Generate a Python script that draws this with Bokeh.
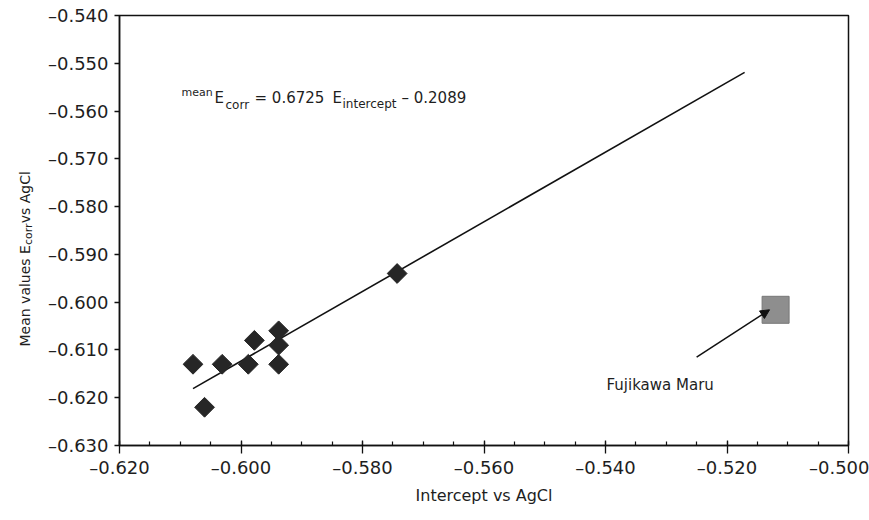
import numpy as np
from bokeh.plotting import figure
from bokeh.layouts import row
from bokeh.models import (Range1d, FixedTicker, CustomJSTickFormatter, Label,
                          Arrow, NormalHead)
from bokeh.embed import file_html
from bokeh.resources import INLINE

# ---------------- data ----------------
intercept = [-0.6079, -0.6031, -0.5988, -0.5938, -0.5938, -0.5938, -0.5978, -0.6060, -0.5743]
ecorr_mean = [-0.613, -0.613, -0.613, -0.613, -0.609, -0.606, -0.608, -0.622, -0.594]

fit_x = [-0.6079, -0.5171]
fit_y = [-0.6181, -0.5519]

outlier_x = [-0.5120]
outlier_y = [-0.6016]
outlier_name = "Fujikawa Maru"
arrow_from = (-0.5250, -0.6115)
arrow_to = (-0.5130, -0.6016)

x_ticks = [-0.620, -0.600, -0.580, -0.560, -0.540, -0.520, -0.500]
x_minor = [-0.620, -0.615, -0.610, -0.605, -0.600, -0.595, -0.590, -0.585, -0.580,
           -0.575, -0.570, -0.565, -0.560, -0.555, -0.550, -0.545, -0.540, -0.535,
           -0.530, -0.525, -0.520, -0.515, -0.510, -0.505, -0.500]
y_ticks = [-0.630, -0.620, -0.610, -0.600, -0.590, -0.580, -0.570, -0.560, -0.550, -0.540]

X0, X1 = -0.62, -0.50
Y0, Y1 = -0.63, -0.54

# ---------------- layout ----------------
W, H = 869, 520
LW = 40                       # strip on the left that holds the rotated y title
BL, BR, BT, BB = 119, 21, 15, 75
FW, FH = W - BL - BR, H - BT - BB
FONT = "DejaVu Sans"
TXT = "#1e1e1e"


def px2x(px):
    return X0 + (px - BL) * (X1 - X0) / FW


def px2y(py):
    return Y1 - (py - BT) * (Y1 - Y0) / FH


p = figure(width=W - LW, height=H, x_range=Range1d(X0, X1), y_range=Range1d(Y0, Y1),
           output_backend="svg", toolbar_location=None,
           min_border_left=BL - LW, min_border_right=BR, min_border_top=BT,
           min_border_bottom=BB)
p.background_fill_color = "white"
p.border_fill_color = "white"
p.outline_line_color = "#111111"
p.outline_line_width = 1.5
p.xgrid.visible = False
p.ygrid.visible = False

fmt = CustomJSTickFormatter(code="return (tick < 0 ? '\\u2013' : '') + Math.abs(tick).toFixed(3);")

xa = p.xaxis[0]
xa.ticker = FixedTicker(ticks=x_ticks, minor_ticks=x_minor)
xa.formatter = fmt
xa.axis_line_color = "#111111"
xa.axis_line_width = 1.5
xa.major_tick_line_color = "#111111"
xa.major_tick_line_width = 1.3
xa.major_tick_in = 5
xa.major_tick_out = 8
xa.minor_tick_line_color = "#111111"
xa.minor_tick_line_width = 1.2
xa.minor_tick_in = 4
xa.minor_tick_out = 0
xa.major_label_text_font = FONT
xa.major_label_text_font_size = "18px"
xa.major_label_text_color = TXT
xa.major_label_standoff = 3
xa.axis_label = "Intercept vs AgCl"
xa.axis_label_text_font = FONT
xa.axis_label_text_font_size = "16px"
xa.axis_label_text_font_style = "normal"
xa.axis_label_text_color = TXT
xa.axis_label_standoff = 5

ya = p.yaxis[0]
ya.ticker = FixedTicker(ticks=y_ticks)
ya.formatter = fmt
ya.axis_line_color = "#111111"
ya.axis_line_width = 1.5
ya.major_tick_line_color = "#111111"
ya.major_tick_line_width = 1.3
ya.major_tick_in = 0
ya.major_tick_out = 5
ya.minor_tick_line_color = None
ya.major_label_text_font = FONT
ya.major_label_text_font_size = "18px"
ya.major_label_text_color = TXT
ya.major_label_standoff = 6

# regression line
p.line(fit_x, fit_y, line_color="#111111", line_width=1.6)

# data points (diamonds)
p.scatter(intercept, ecorr_mean, marker="square", angle=np.pi / 4, size=14,
          fill_color="#262626", line_color="#262626")

# outlier
p.scatter(outlier_x, outlier_y, marker="square", size=27,
          fill_color="#8e8e8e", line_color="#777777", line_width=1)
p.add_layout(Arrow(end=NormalHead(size=9, fill_color="#111111", line_color="#111111"),
                   x_start=arrow_from[0], y_start=arrow_from[1],
                   x_end=arrow_to[0], y_end=arrow_to[1],
                   line_color="#111111", line_width=1.5))
p.add_layout(Label(x=px2x(606), y=px2y(384), text=outlier_name, text_font=FONT,
                   text_font_size="15px", text_color=TXT, text_baseline="alphabetic"))

# equation  meanE_corr = 0.6725 E_intercept – 0.2089
eq_parts = [
    ("mean", 181, 92, "11px"),
    ("E", 214, 97, "15px"),
    ("corr", 225, 104, "12px"),
    ("= 0.6725", 254, 97, "15px"),
    ("E", 332, 97, "15px"),
    ("intercept", 342, 103, "12px"),
    ("\u2013 0.2089", 401, 97, "15px"),
]
for t, px, py, fs in eq_parts:
    p.add_layout(Label(x=px2x(px), y=px2y(py), text=t, text_font=FONT, text_font_size=fs,
                       text_color=TXT, text_baseline="alphabetic", text_align="left"))

# ---------------- left strip with the rotated y-axis title ----------------
# its frame is aligned with the main plot's frame (rows align frames), so use
# the same pixel span for the range
lp = figure(width=LW, height=H, x_range=Range1d(0, LW), y_range=Range1d(H - BB, BT),
            output_backend="svg", toolbar_location=None, min_border=0,
            x_axis_type=None, y_axis_type=None)
lp.outline_line_color = None
lp.background_fill_color = "white"
lp.border_fill_color = "white"
for g in lp.grid:
    g.visible = False

ytitle_parts = [
    ("Mean values E", 24, 346, "14px"),
    ("corr", 28, 244.6, "11px"),
    (" vs AgCl", 24, 222.8, "14px"),
]
for t, px, py, fs in ytitle_parts:
    lp.add_layout(Label(x=px, y=py, text=t, text_font=FONT, text_font_size=fs,
                        text_color=TXT, text_baseline="alphabetic", text_align="left",
                        angle=np.pi / 2))

layout = row(lp, p, spacing=0)
open("out.html", "w").write(file_html(layout, INLINE))
